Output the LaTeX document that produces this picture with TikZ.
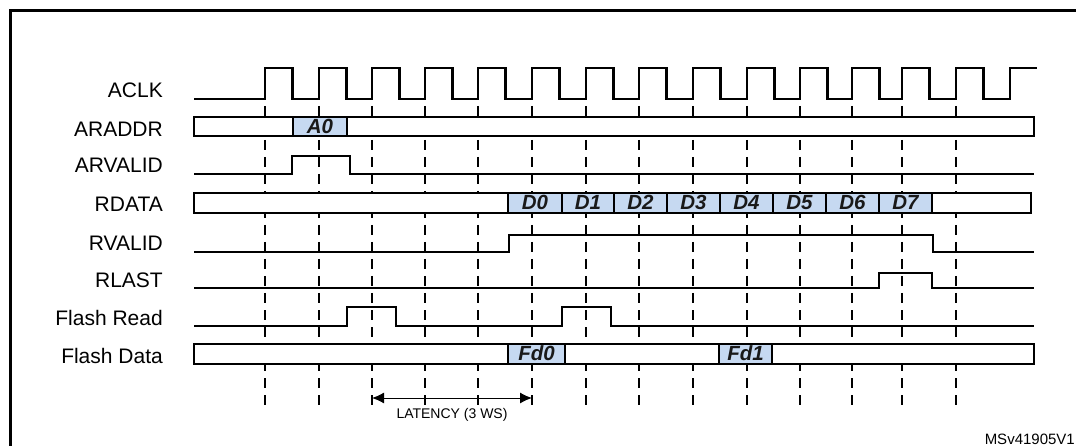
\documentclass[tikz,border=0pt]{standalone}
\usepackage{fontspec}
\setmainfont{Liberation Sans}
\usetikzlibrary{arrows.meta}

\definecolor{busblue}{HTML}{C6D9F1}

\begin{document}
\begin{tikzpicture}[x=1pt, y=-1pt, line join=miter]

\def\xs{194}
\def\xe{1034}
\def\labx{163}
\def\hiw{27.5}
\def\lw{2.4pt}

% ---------- ramka i obszar ----------
\useasboundingbox (0,0) rectangle (1076,446);
\clip (0,0) rectangle (1076,446);
\draw[line width=2.4pt] (10.5,460) -- (10.5,10.5) -- (1090,10.5);

\tikzset{
  sig/.style={line width=\lw},
  bus/.style={line width=\lw, fill=white},
  datbox/.style={line width=1.8pt, fill=busblue},
  gridline/.style={line width=1.2pt, dash pattern=on 10pt off 7pt},
  lbl/.style={anchor=base east, inner sep=0pt,
    font=\fontsize{21}{25}\selectfont},
  dattxt/.style={inner sep=0pt, text=black!90,
    font=\fontsize{20.5}{24}\selectfont\bfseries\itshape},
  latarrow/.style={{Latex[length=12pt,width=11pt]}-{Latex[length=12pt,width=11pt]},
    line width=1pt}
}

% ---------- linie pomocnicze (zbocza zegara) ----------
\foreach \x [count=\i from 0] in {265,319,372,425,478,532,586,639,693,747,800,852,902,956} {
  \coordinate (E\i) at (\x,0);
  \draw[gridline] (\x,106) -- (\x,408);
}

% ---------- etykiety ----------
\foreach \name/\yb [count=\i] in {ACLK/98, ARADDR/137, ARVALID/173, RDATA/212,
  RVALID/251, RLAST/288, Flash Read/326, Flash Data/363} {
  \node[lbl] (L\i) at (\labx,\yb) {\name};
}

% ---------- ACLK ----------
\draw[sig] (\xs,99)
  \foreach \x in {265,319,372,425,478,532,586,639,693,747,800,852,902,956} {
    -- (\x,99) -- (\x,68) -- (\x+\hiw,68) -- (\x+\hiw,99)
  } -- (1010,99) -- (1010,68) -- (1037,68);

% ---------- ARADDR ----------
\filldraw[bus] (\xs,117) rectangle (\xe,136);
\filldraw[datbox] (293,117) rectangle (347,136);
\node[dattxt] (A0) at (320,126) {A0};
\draw[line width=\lw] (\xs,117) rectangle (\xe,136);

% ---------- ARVALID ----------
\draw[sig] (\xs,174) -- (292,174) -- (292,156) -- (350,156) -- (350,174) -- (\xe,174);

% ---------- RDATA ----------
\filldraw[bus] (\xs,193) rectangle (1031,213);
\foreach \a/\b/\t [count=\i from 0] in {508/562/D0, 562/614/D1, 614/667/D2, 667/720/D3,
  720/773/D4, 773/826/D5, 826/879/D6, 879/932/D7} {
  \filldraw[datbox] (\a,193) rectangle (\b,213);
  \node[dattxt] (D\i) at ({(\a+\b)/2},202.5) {\t};
}
\draw[line width=\lw] (\xs,193) rectangle (1031,213);

% ---------- RVALID / RLAST ----------
\draw[sig] (\xs,252) -- (509,252) -- (509,235) -- (933,235) -- (933,252) -- (\xe,252);
\draw[sig] (\xs,288) -- (879,288) -- (879,273) -- (932,273) -- (932,288) -- (\xe,288);

% ---------- Flash Read ----------
\draw[sig] (\xs,326) -- (347,326) -- (347,307) -- (396,307) -- (396,326)
  -- (562,326) -- (562,307) -- (611,307) -- (611,326) -- (\xe,326);

% ---------- Flash Data ----------
\filldraw[bus] (\xs,344) rectangle (\xe,364);
\foreach \a/\b/\t in {508/565/Fd0, 719/772/Fd1} {
  \filldraw[datbox] (\a,344) rectangle (\b,364);
  \node[dattxt] (\t) at ({(\a+\b)/2},353.5) {\t};
}
\draw[line width=\lw] (\xs,344) rectangle (\xe,364);

% ---------- opóźnienie ----------
\coordinate (lat-a) at (372,398);
\coordinate (lat-b) at (532,398);
\draw[latarrow] (lat-a) -- (lat-b);
\node[font=\fontsize{14}{16}\selectfont, inner sep=0pt] (lat) at (452,415) {LATENCY (3 WS)};

\node[anchor=base east, inner sep=0pt, font=\fontsize{15}{17}\selectfont] (ref) at (1075,444) {MSv41905V1};

\end{tikzpicture}
\end{document}
